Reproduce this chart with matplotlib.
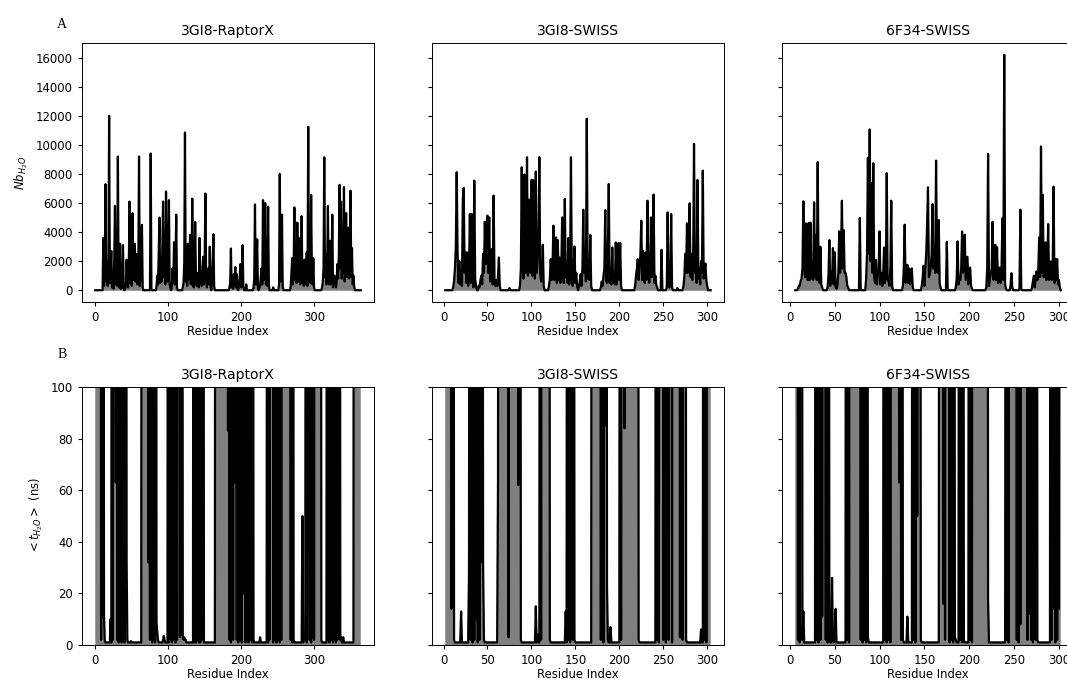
import numpy as np
import matplotlib
matplotlib.use("Agg")
import matplotlib.pyplot as plt

# ---- residue ranges (first, last) ----
raptor_res = (0, 364)
swiss_res = (2, 304)
f34_res = (6, 302)

# ---- A: number of water contacts, per residue (segments: start residue + values) ----
raptor_nb_starts = [11, 76, 84, 120, 184, 207, 217, 244, 252, 268, 311]
raptor_nb_vals = [
    [3600, 300, 1200, 7300, 600, 2000, 300, 1000, 12000, 500, 1500, 2700, 200, 800, 100, 2000, 5800, 400, 1500,
     300, 9200, 700, 200, 3200, 100, 1200, 200, 3100, 100, 0, 100, 400, 2100, 600, 200, 1800, 6100, 500, 1200,
     300, 5300, 700, 1800, 3200, 600, 1400, 2500, 400, 1500, 9200, 300, 800, 1300, 4500, 200],
    [9400],
    [300, 1000, 400, 2500, 5000, 500, 1500, 600, 3000, 6100, 900, 2000, 400, 6800, 1200, 600, 3000, 6200, 400,
     200, 0, 300, 1500, 500, 3300, 400, 1500, 5200, 200],
    [200, 500, 1800, 10850, 600, 1500, 300, 3200, 700, 1800, 3800, 400, 1200, 6300, 500, 200, 1200, 4700, 1000,
     300, 800, 1200, 200, 3600, 500, 1200, 300, 1500, 2300, 400, 1800, 6650, 800, 200, 900, 1500, 400, 3000,
     300, 0, 500, 2000, 3850, 300],
    [200, 500, 2870, 200, 600, 100, 1100, 300, 1600, 200, 1100, 100, 0, 300, 800, 1800, 200, 900, 3100, 300],
    [400],
    [200, 800, 5900, 400, 1500, 3500, 300, 0, 200, 300, 900, 1500, 400, 6200, 700, 1500, 6000, 400, 1200, 300,
     5750, 400],
    [200],
    [400, 8000, 600, 1200, 5200, 300],
    [300, 1200, 2200, 400, 1500, 5700, 700, 2000, 500, 4650, 600, 3600, 900, 400, 1500, 5100, 500, 1300, 300,
     2100, 400, 1200, 2600, 300, 11250, 700, 2000, 500, 6550, 1200, 400, 2200, 200],
    [200, 600, 1500, 9150, 900, 2500, 400, 1500, 5800, 700, 400, 3400, 400, 1400, 5200, 200, 800, 1000, 700,
     200, 600, 1800, 800, 2500, 7250, 1500, 6100, 800, 2500, 1200, 7100, 600, 1800, 5300, 900, 2000, 4300,
     800, 1800, 6850, 900, 2900, 400, 1000, 300],
]

swiss_nb_starts = [11, 40, 75, 87, 120, 179, 218, 254, 266, 273]
swiss_nb_vals = [
    [200, 640, 1500, 3000, 8120, 2600, 500, 2000, 400, 1330, 300, 6330, 7040, 1200, 2600, 500, 2600, 300, 1200,
     5240, 500, 5240, 1200, 200, 7540, 800, 300],
    [300, 200, 700, 1000, 400, 2500, 1200, 4710, 1800, 3000, 5130, 1200, 5010, 600, 1500, 2830, 400, 6510, 800,
     300, 700, 300, 1000, 2250, 300],
    [150],
    [300, 1500, 8460, 1500, 800, 7960, 1200, 2500, 9150, 1000, 6230, 1500, 1200, 7590, 1000, 7590, 2000, 800,
     8160, 1200, 2000, 3000, 9150, 1200, 600, 1000, 3130, 300],
    [300, 800, 2140, 700, 1500, 4440, 700, 1500, 3630, 500, 3450, 700, 2250, 500, 1500, 5010, 900, 500, 6280,
     900, 1500, 500, 3590, 400, 1500, 9150, 700, 300, 1500, 3010, 500, 1200, 300, 0, 200, 600, 1100, 300, 1500,
     5540, 1200, 2500, 600, 11800, 800, 2000, 700, 3800, 300],
    [200, 600, 300, 1000, 1500, 5520, 700, 500, 2500, 7310, 500, 1500, 400, 2940, 500, 1000, 400, 3290, 400,
     1500, 3240, 700, 3240, 300],
    [300, 1000, 1500, 2140, 700, 1500, 2500, 4780, 700, 2710, 900, 500, 2600, 700, 6160, 1200, 500, 1200,
     5010, 900, 1500, 6580, 500, 1000, 400, 200, 0, 0, 0, 0, 2780, 0],
    [200, 5360, 500, 200, 600, 5240, 200],
    [150],
    [300, 1000, 2500, 1200, 4600, 1200, 2000, 5980, 900, 2500, 700, 2000, 10070, 1200, 2000, 500, 7590, 800,
     1500, 400, 2000, 1200, 8230, 800, 1500, 1840, 700, 300],
]

f34_nb_starts = [9, 42, 78, 85, 126, 147, 175, 185, 219, 246, 256, 270]
f34_nb_vals = [
    [100, 300, 300, 650, 800, 1500, 6120, 1500, 900, 4600, 1200, 700, 4620, 700, 4650, 800, 1500, 700, 6050,
     900, 3800, 700, 8810, 900, 500, 2990, 400, 200],
    [200, 1000, 3450, 300, 1300, 500, 2900, 400, 2600, 200, 100, 300, 1200, 4050, 1200, 2500, 6160, 1500, 4140,
     1200, 1200, 900, 300, 200],
    [4970],
    [800, 2500, 9110, 2500, 11060, 2000, 7380, 1200, 8740, 900, 500, 2090, 400, 1000, 1500, 4050, 400, 1200, 300,
     1000, 2940, 500, 1200, 8050, 700, 650, 300, 1500, 6160, 300],
    [300, 1500, 4510, 500, 1200, 1750, 500, 1500, 400, 1000, 1500, 200],
    [300, 800, 1680, 300, 1500, 2500, 4510, 7080, 900, 1100, 1500, 2500, 5930, 1500, 3000, 1200, 8920, 2000,
     1200, 4830, 500, 200],
    [3330],
    [200, 800, 3360, 400, 800, 700, 1500, 4050, 1200, 2000, 3820, 700, 1500, 2300, 400, 1000, 1560, 300, 100],
    [200, 1500, 9380, 300, 800, 1100, 1500, 4710, 700, 1500, 3130, 700, 2950, 500, 1000, 1560, 500, 1500, 4950,
     700, 16200, 400, 100],
    [300, 1170, 200],
    [100, 5540, 100],
    [200, 600, 1000, 200, 800, 1300, 700, 1500, 3630, 900, 9890, 1200, 6560, 900, 1500, 3290, 700, 1500, 4550,
     700, 800, 1980, 700, 1200, 7130, 500, 2140, 700, 2140, 400, 700, 200],
]

# ---- B: mean residence time (ns), per residue ----
raptor_t_starts = [0, 21, 23, 49, 64, 93, 100, 135, 165, 226, 236, 283, 318, 340, 355]
raptor_t_vals = [
    [500, 500, 500, 500, 500, 500, 500, 500, 2, 500, 11, 500, 11, 2],
    [10],
    [500, 2, 500, 500, 500, 63, 500, 2, 500, 1, 500, 2, 500, 1, 500, 2, 500, 1, 500, 500, 32, 2],
    [1.5],
    [500, 500, 500, 500, 500, 500, 500, 500, 500, 32, 500, 2, 500, 500, 1, 500, 2, 500, 1, 500, 9, 5, 2],
    [2, 3.5, 2],
    [500, 1, 500, 2, 500, 1, 500, 500, 2, 500, 1, 500, 2, 500, 500, 500, 3, 500, 4, 500, 3, 2, 3, 2, 2],
    [500, 1, 500, 1, 500, 2, 500, 1, 500, 1, 500, 2, 500, 500, 1],
    [500, 500, 500, 500, 500, 500, 500, 500, 500, 500, 500, 500, 500, 500, 500, 500, 500,
     83, 500, 2, 500, 1, 500, 500, 2, 500, 500, 63, 500, 2, 500, 1, 500, 500, 2, 500, 1, 500, 20, 500, 500, 1,
     500, 2, 500, 1, 500, 500, 2, 500, 1, 500, 2, 1],
    [3],
    [500, 1, 500, 2, 500, 500, 500, 500, 1, 500, 2, 500, 1, 1, 500, 2, 500, 1, 500, 2,
     500, 500, 500, 500, 500, 500, 500, 500, 500, 500, 500, 500, 2, 500, 1, 500, 2, 1],
    [1, 50, 1, 2, 3, 2, 500, 1, 500, 36, 500, 2, 500, 1, 500, 3, 500, 2,
     500, 500, 500, 500, 500, 500, 500, 500, 500, 2, 1],
    [500, 2, 500, 1, 500, 2, 500, 500, 1, 500, 2, 500, 1, 500, 2, 500, 3, 500, 2, 3, 1],
    [3],
    [500, 500, 500, 500, 500, 500, 500, 500, 500, 500],
]

swiss_t_starts = [2, 20, 29, 62, 105, 110, 139, 169, 201, 242, 293, 296]
swiss_t_vals = [
    [500, 500, 500, 500, 500, 500, 500, 14, 500, 500, 2, 1],
    [13],
    [28, 500, 2, 500, 1, 500, 2, 500, 10, 500, 1, 500, 2, 500, 32, 500, 32, 2],
    [63, 500, 500, 500, 500, 500, 500, 500, 500, 500, 500, 500, 3,
     500, 500, 500, 500, 500, 500, 500, 500, 500, 500, 62, 500, 500, 2, 1],
    [15, 1, 4],
    [500, 2, 500, 500, 500, 500, 500, 500, 500, 500, 500, 2, 1],
    [13, 1, 500, 2, 500, 1, 500, 500, 2, 500, 2, 1],
    [500, 500, 500, 500, 500, 500, 500, 500, 500, 500, 2, 500, 500, 1, 500, 85, 500, 23, 2, 1, 1, 7, 1],
    [500, 2, 500, 500, 500, 84, 500, 500, 500, 500, 500, 500, 500, 500, 500, 500, 500, 500, 500, 500, 500, 2],
    [500, 2, 500, 1, 500, 500, 500, 500, 2, 500, 500, 1, 500, 500, 2, 500, 500, 500, 1, 500, 500,
     500, 500, 500, 500, 500, 500, 3, 500, 500, 2, 500, 500, 500, 2],
    [6],
    [500, 2, 500, 1, 500, 500, 500, 500, 500],
]

f34_t_starts = [6, 29, 47, 63, 105, 131, 137, 167, 189, 200, 241, 291]
f34_t_vals = [
    [500, 500, 500, 2, 500, 1, 500, 500, 2, 13, 1],
    [500, 2, 500, 1, 500, 2, 500, 11, 500, 500, 500, 2, 500, 1, 500, 2, 1],
    [26, 2, 1, 3, 14, 1],
    [500, 2, 500, 1, 500, 500, 500, 500, 500, 500, 500, 500, 500, 500, 500, 500,
     2, 500, 1, 500, 2, 500, 1, 500, 3, 1],
    [500, 2, 500, 1, 500, 2, 500, 1, 500, 500, 500, 500, 500, 500, 500, 500, 500, 63, 500, 2, 500, 2, 1],
    [11],
    [500, 2, 500, 1, 500, 50, 500, 500, 500, 2, 1],
    [500, 500, 500, 500, 16, 500, 2, 500, 500, 500, 500, 1, 500, 2, 500, 1, 500, 3, 2],
    [500, 2, 500, 1, 500, 2, 1],
    [500, 2, 500, 1, 500, 500, 500, 500, 500, 500, 500, 500, 500, 500, 500, 500, 500, 500, 500, 500, 500, 18, 1],
    [500, 2, 500, 1, 500, 500, 500, 500, 500, 500, 500, 500, 2, 500, 1, 500, 8,
     500, 500, 500, 500, 500, 500, 500, 2, 500, 12, 500, 2, 500, 1, 500, 500, 2, 500, 2, 1],
    [500, 2, 500, 14, 500, 1, 500, 2, 500, 14, 500, 500],
]

titles = ["3GI8-RaptorX", "3GI8-SWISS", "6F34-SWISS"]


def build(res, base, starts, segs):
    x = np.arange(res[0], res[1] + 1)
    y = np.full(x.size, float(base))
    for s, vals in zip(starts, segs):
        y[s - res[0]:s - res[0] + len(vals)] = vals
    return x, y


plt.rcParams["font.size"] = 8.4
plt.rcParams["xtick.major.size"] = 3.0
plt.rcParams["ytick.major.size"] = 3.0
plt.rcParams["axes.linewidth"] = 0.7

fig = plt.figure(figsize=(10.67, 6.82), dpi=100)

lefts = [82 / 1067, 432 / 1067, 782 / 1067]
width = 292 / 1067
top_row = [build(raptor_res, 0, raptor_nb_starts, raptor_nb_vals),
           build(swiss_res, 0, swiss_nb_starts, swiss_nb_vals),
           build(f34_res, 0, f34_nb_starts, f34_nb_vals)]
bot_row = [build(raptor_res, 1, raptor_t_starts, raptor_t_vals),
           build(swiss_res, 1, swiss_t_starts, swiss_t_vals),
           build(f34_res, 1, f34_t_starts, f34_t_vals)]

ax_top = []
ax_bot = []
for i in range(3):
    share = ax_top[0] if i > 0 else None
    ax = fig.add_axes([lefts[i], 380 / 682, width, 259 / 682], sharey=share)
    x, y = top_row[i]
    ax.fill_between(x, y, color="grey", lw=0)
    ax.plot(x, y, color="k", lw=1.6)
    ax.set_title(titles[i], fontsize=10.1)
    ax.set_xlabel("Residue Index", labelpad=0.5)
    if i > 0:
        ax.tick_params(labelleft=False)
    ax_top.append(ax)

    share = ax_bot[0] if i > 0 else None
    ax = fig.add_axes([lefts[i], 37 / 682, width, 258 / 682], sharey=share)
    x, y = bot_row[i]
    ax.fill_between(x, y, color="grey", lw=0)
    ax.plot(x, y, color="k", lw=1.6)
    ax.set_title(titles[i], fontsize=10.1)
    ax.set_xlabel("Residue Index", labelpad=0.5)
    if i > 0:
        ax.tick_params(labelleft=False)
    ax_bot.append(ax)

ax_top[0].set_yticks(np.arange(0, 16001, 2000))
ax_top[0].set_ylabel("$Nb_{H_2O}$")
ax_bot[0].set_ylim(0, 100)
ax_bot[0].set_ylabel("$< t_{H_2O} >$ (ns)")

fig.text(62 / 1067, 1 - 25 / 682, "A", family="Liberation Serif", fontsize=10, ha="center", va="center")
fig.text(62 / 1067, 1 - 354 / 682, "B", family="Liberation Serif", fontsize=10, ha="center", va="center")

fig.savefig("out.png", dpi=100)
